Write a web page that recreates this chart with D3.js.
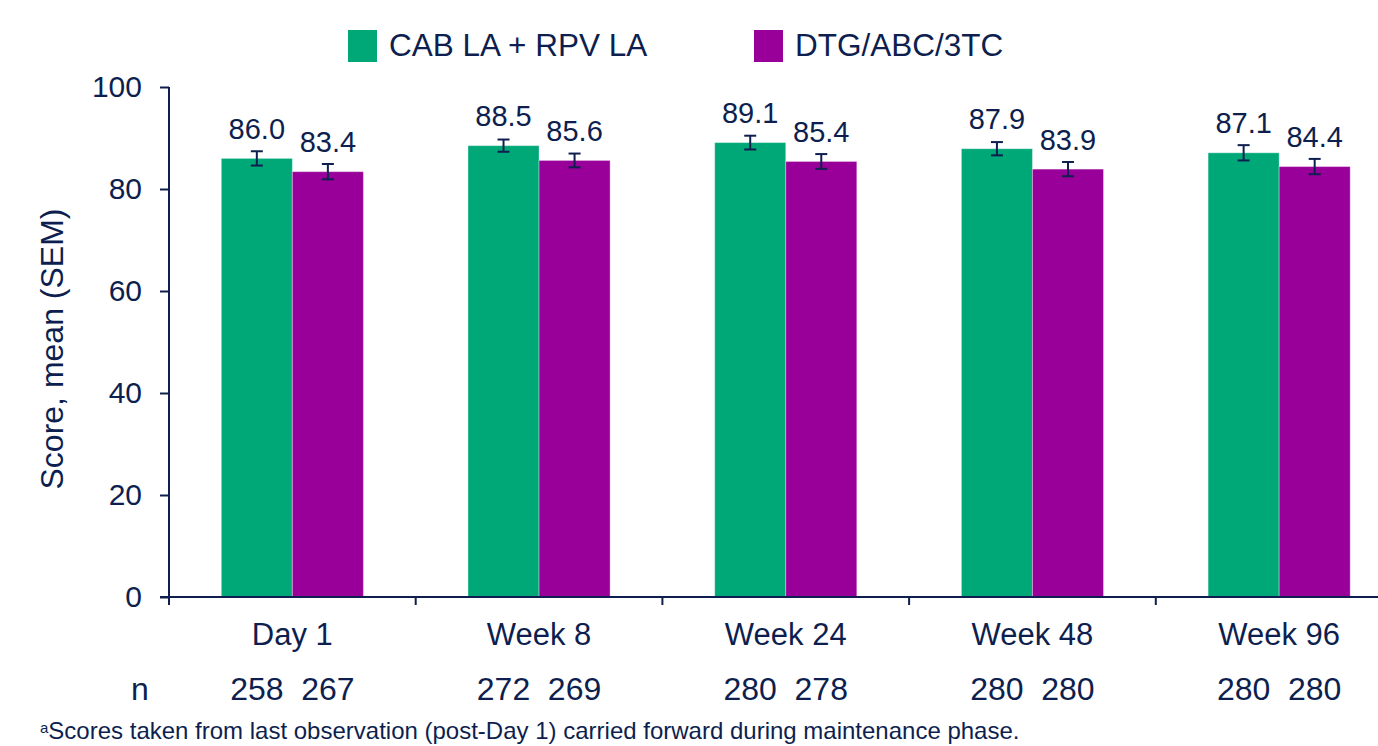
<!DOCTYPE html>
<html>
<head>
<meta charset="utf-8">
<script src="https://cdn.jsdelivr.net/npm/d3@7"></script>
<style>
  html, body { margin: 0; padding: 0; background: #ffffff; }
  svg { display: block; font-family: "Liberation Sans", Arial, sans-serif; }
</style>
</head>
<body>
<svg id="chart" width="1378" height="746"></svg>
<script>
const categories = ["Day 1", "Week 8", "Week 24", "Week 48", "Week 96"];
const series = ["CAB LA + RPV LA", "DTG/ABC/3TC"];
const cabMean = [86.0, 88.5, 89.1, 87.9, 87.1];
const dtgMean = [83.4, 85.6, 85.4, 83.9, 84.4];
const cabSem = [1.4, 1.2, 1.35, 1.3, 1.5];
const dtgSem = [1.5, 1.35, 1.45, 1.4, 1.5];
const cabN = [258, 272, 280, 280, 280];
const dtgN = [267, 269, 278, 280, 280];
const yTicks = [0, 20, 40, 60, 80, 100];
const yLabel = "Score, mean (SEM)";
const nLabel = "n";
const footnoteSup = "a";
const footnote = "Scores taken from last observation (post-Day 1) carried forward during maintenance phase.";

const colors = ["#00A878", "#990099"];
const navy = "#0e1f4f";

const data = categories.map((c, i) => ({
  cat: c,
  vals: [
    { s: series[0], v: cabMean[i], e: cabSem[i], n: cabN[i] },
    { s: series[1], v: dtgMean[i], e: dtgSem[i], n: dtgN[i] }
  ]
}));

const svg = d3.select("#chart");
const left = 169, bandW = 246.7;
const x = d3.scaleBand().domain(categories).range([left, left + bandW * categories.length]).padding(0);
const bw = x.bandwidth();
const x1 = d3.scaleBand().domain(series).range([bw * 0.212, bw * 0.788]).padding(0);
const y = d3.scaleLinear().domain([0, 100]).range([597, 87]);

// Bars
const g = svg.append("g");
const groups = g.selectAll("g.cat").data(data).join("g")
  .attr("class", "cat")
  .attr("transform", d => `translate(${x(d.cat)},0)`);

groups.selectAll("rect").data(d => d.vals).join("rect")
  .attr("x", d => x1(d.s))
  .attr("width", x1.bandwidth())
  .attr("y", d => y(d.v))
  .attr("height", d => y(0) - y(d.v))
  .attr("fill", (d, i) => colors[i])
  .attr("stroke", "rgba(255,255,255,0.35)")
  .attr("stroke-width", 1);

// Error bars
const eb = groups.selectAll("g.err").data(d => d.vals).join("g").attr("class", "err");
eb.append("line")
  .attr("x1", d => x1(d.s) + x1.bandwidth() / 2)
  .attr("x2", d => x1(d.s) + x1.bandwidth() / 2)
  .attr("y1", d => y(d.v + d.e))
  .attr("y2", d => y(d.v - d.e))
  .attr("stroke", navy).attr("stroke-width", 2);
[1, -1].forEach(sign => {
  eb.append("line")
    .attr("x1", d => x1(d.s) + x1.bandwidth() / 2 - 6)
    .attr("x2", d => x1(d.s) + x1.bandwidth() / 2 + 6)
    .attr("y1", d => y(d.v + sign * d.e))
    .attr("y2", d => y(d.v + sign * d.e))
    .attr("stroke", navy).attr("stroke-width", 2);
});

// Value labels
groups.selectAll("text.val").data(d => d.vals).join("text")
  .attr("class", "val")
  .attr("x", d => x1(d.s) + x1.bandwidth() / 2)
  .attr("y", d => y(d.v) - 19.5)
  .attr("text-anchor", "middle")
  .attr("font-size", 29)
  .attr("fill", navy)
  .text(d => d.v.toFixed(1));

// n labels
groups.selectAll("text.n").data(d => d.vals).join("text")
  .attr("class", "n")
  .attr("x", d => x1(d.s) + x1.bandwidth() / 2)
  .attr("y", 700)
  .attr("text-anchor", "middle")
  .attr("font-size", 32)
  .attr("fill", navy)
  .text(d => d.n);

svg.append("text")
  .attr("x", 140).attr("y", 700)
  .attr("text-anchor", "middle")
  .attr("font-size", 32)
  .attr("fill", navy)
  .text(nLabel);

// Category labels
groups.append("text")
  .attr("x", bw / 2)
  .attr("y", 645)
  .attr("text-anchor", "middle")
  .attr("font-size", 31)
  .attr("fill", navy)
  .text(d => d.cat);

// Y axis
const yAxis = svg.append("g")
  .attr("transform", `translate(${left},0)`)
  .call(d3.axisLeft(y).tickValues(yTicks).tickSize(9).tickPadding(18).tickSizeOuter(0));
yAxis.select(".domain").remove();
yAxis.selectAll(".tick line").attr("stroke", navy).attr("stroke-width", 2);
yAxis.selectAll(".tick text")
  .attr("font-size", 30)
  .attr("fill", navy)
  .attr("font-family", "Liberation Sans, Arial, sans-serif");
svg.append("line")
  .attr("x1", left).attr("x2", left)
  .attr("y1", y(100)).attr("y2", y(0) + 8)
  .attr("stroke", navy).attr("stroke-width", 2);

// X axis
svg.append("line")
  .attr("x1", left - 9).attr("x2", 1378)
  .attr("y1", y(0)).attr("y2", y(0))
  .attr("stroke", navy).attr("stroke-width", 2);
svg.selectAll("line.xtick").data(categories.slice(1)).join("line")
  .attr("class", "xtick")
  .attr("x1", d => x(d)).attr("x2", d => x(d))
  .attr("y1", y(0)).attr("y2", y(0) + 8)
  .attr("stroke", navy).attr("stroke-width", 2);

// Y label
svg.append("text")
  .attr("transform", `translate(63,${(y(0) + y(100)) / 2 + 7}) rotate(-90)`)
  .attr("text-anchor", "middle")
  .attr("font-size", 32)
  .attr("fill", navy)
  .text(yLabel);

// Legend
const legendX = [348, 754];
const leg = svg.selectAll("g.leg").data(series).join("g")
  .attr("class", "leg")
  .attr("transform", (d, i) => `translate(${legendX[i]},0)`);
leg.append("rect")
  .attr("x", 0).attr("y", 30).attr("width", 29).attr("height", 32)
  .attr("fill", (d, i) => colors[i]);
leg.append("text")
  .attr("x", 41).attr("y", 56)
  .attr("font-size", 31.5)
  .attr("fill", navy)
  .text(d => d);

// Footnote
const fn = svg.append("text")
  .attr("x", 40).attr("y", 739)
  .attr("font-size", 24)
  .attr("fill", navy);
fn.append("tspan").attr("font-size", 15).attr("dy", -6).text(footnoteSup);
fn.append("tspan").attr("dy", 6).text(footnote);
</script>
</body>
</html>
